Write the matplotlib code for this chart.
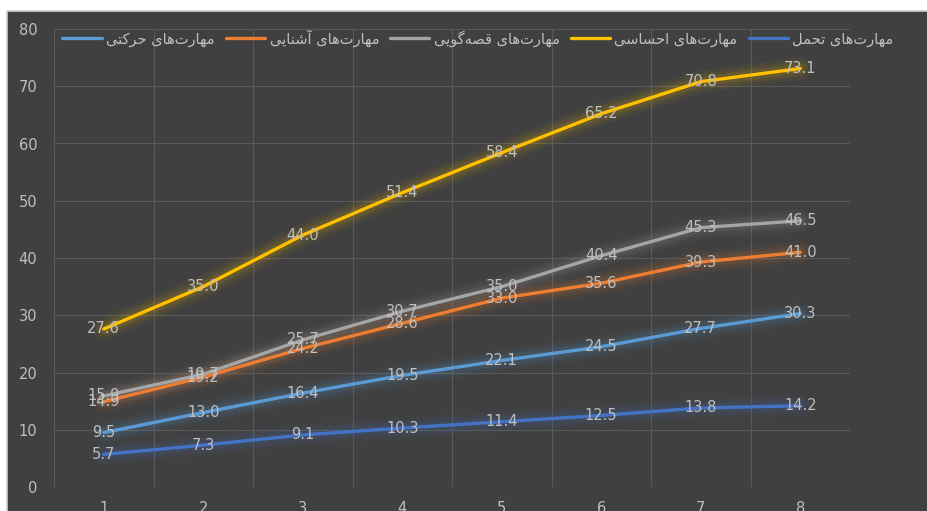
import numpy as np
import matplotlib
matplotlib.use("Agg")
import matplotlib.pyplot as plt
from matplotlib.patches import Rectangle

# categories on x axis
categories = [1, 2, 3, 4, 5, 6, 7, 8]

# series, in legend order (left to right)
names = [
    "مهارت\u200cهای حرکتی",
    "مهارت\u200cهای آشنایی",
    "مهارت\u200cهای قصه\u200cگویی",
    "مهارت\u200cهای احساسی",
    "مهارت\u200cهای تحمل",
]
harekati = [9.5, 13.0, 16.4, 19.5, 22.1, 24.5, 27.7, 30.3]
ashnayi = [14.9, 19.2, 24.2, 28.6, 33.0, 35.6, 39.3, 41.0]
ghesse = [15.9, 19.7, 25.7, 30.7, 35.0, 40.4, 45.3, 46.5]
ehsasi = [27.6, 35.0, 44.0, 51.4, 58.4, 65.2, 70.8, 73.1]
tahammol = [5.7, 7.3, 9.1, 10.3, 11.4, 12.5, 13.8, 14.2]

y_ticks = [0, 10, 20, 30, 40, 50, 60, 70, 80]

colors = ["#5B9BD5", "#ED7D31", "#A5A5A5", "#FFC000", "#4472C4"]

# matplotlib has no arabic shaping, so pick presentation forms by hand
# (iso, final, initial, medial); right-joining letters have no initial/medial
FORMS = {
    "\u0622": ("\uFE81", "\uFE82", None, None),
    "\u0627": ("\uFE8D", "\uFE8E", None, None),
    "\u0631": ("\uFEAD", "\uFEAE", None, None),
    "\u0648": ("\uFEED", "\uFEEE", None, None),
    "\u062A": ("\uFE95", "\uFE96", "\uFE97", "\uFE98"),
    "\u062D": ("\uFEA1", "\uFEA2", "\uFEA3", "\uFEA4"),
    "\u0633": ("\uFEB1", "\uFEB2", "\uFEB3", "\uFEB4"),
    "\u0634": ("\uFEB5", "\uFEB6", "\uFEB7", "\uFEB8"),
    "\u0635": ("\uFEB9", "\uFEBA", "\uFEBB", "\uFEBC"),
    "\u0642": ("\uFED5", "\uFED6", "\uFED7", "\uFED8"),
    "\u0644": ("\uFEDD", "\uFEDE", "\uFEDF", "\uFEE0"),
    "\u0645": ("\uFEE1", "\uFEE2", "\uFEE3", "\uFEE4"),
    "\u0646": ("\uFEE5", "\uFEE6", "\uFEE7", "\uFEE8"),
    "\u0647": ("\uFEE9", "\uFEEA", "\uFEEB", "\uFEEC"),
    "\u06A9": ("\uFB8E", "\uFB8F", "\uFB90", "\uFB91"),
    "\u06AF": ("\uFB92", "\uFB93", "\uFB94", "\uFB95"),
    "\u06CC": ("\uFBFC", "\uFBFD", "\uFBFE", "\uFBFF"),
}


def shape_rtl(text):
    out = []
    for i, c in enumerate(text):
        if c == "\u200c":
            continue
        if c not in FORMS:
            out.append(c)
            continue
        prev = text[i - 1] if i > 0 else ""
        nxt = text[i + 1] if i + 1 < len(text) else ""
        iso, fin, ini, med = FORMS[c]
        join_prev = prev in FORMS and FORMS[prev][2] is not None
        join_next = ini is not None and nxt in FORMS
        if join_prev and join_next:
            out.append(med)
        elif join_prev:
            out.append(fin)
        elif join_next:
            out.append(ini)
        else:
            out.append(iso)
    return "".join(reversed(out))


plt.rcParams["font.family"] = ["DejaVu Sans"]
text_col = "#bfbfbf"
W, H = 927, 511

fig = plt.figure(figsize=(W / 100, H / 100), dpi=100, facecolor="white")
# dark chart area with thin light border (behind the axes)
fig.patches.append(Rectangle((7.5 / W, -0.01), 1.0, 1 - 11.5 / H + 0.01,
                             transform=fig.transFigure, facecolor="#404040",
                             edgecolor="#d0d0d0", linewidth=1.2, zorder=-5))

ax = fig.add_axes([54 / W, 1 - 487 / H, (850 - 54) / W, (487 - 29) / H])
ax.set_facecolor("none")
ax.set_zorder(1)

series = [harekati, ashnayi, ghesse, ehsasi, tahammol]
x = np.array(categories)
handles = []
for vals, col, name in zip(series, colors, names):
    # soft glow
    for lw, a in [(16, 0.05), (11, 0.07), (7, 0.10)]:
        ax.plot(x, vals, color=col, lw=lw, alpha=a, solid_capstyle="round", zorder=2)
    h, = ax.plot(x, vals, color=col, lw=2.4, solid_capstyle="round", zorder=3)
    handles.append(h)

for vals in series:
    for xi, v in zip(x, vals):
        ax.text(xi, v, f"{v:.1f}", ha="center", va="center", fontsize=10.5,
                color=text_col, zorder=4)

ax.set_xlim(0.5, 8.5)
ax.set_ylim(0, 80)
ax.set_yticks(y_ticks)
ax.set_xticks(x)
ax.set_xticks(np.arange(0.5, 9.0, 1.0), minor=True)
ax.grid(True, which="major", axis="y", color="#595959", lw=0.8)
ax.grid(True, which="minor", axis="x", color="#595959", lw=0.8)
ax.tick_params(which="both", length=0, labelsize=10.5, labelcolor=text_col)
ax.tick_params(axis="y", pad=12)
ax.tick_params(axis="x", pad=10)
for s in ax.spines.values():
    s.set_visible(False)

leg = fig.legend(handles, [shape_rtl(n) for n in names], ncol=5, frameon=False,
                 loc="center", bbox_to_anchor=(478 / W, 1 - 38 / H),
                 fontsize=10.5, labelcolor=text_col, handlelength=2.7,
                 handletextpad=0.3, columnspacing=0.75)
leg.set_zorder(5)

fig.savefig("out.png", dpi=100, facecolor="white")
